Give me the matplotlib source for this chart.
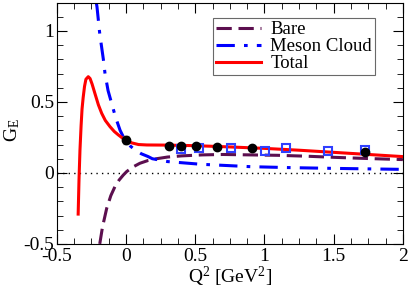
import matplotlib
matplotlib.use("Agg")
import matplotlib.pyplot as plt
from matplotlib.ticker import MultipleLocator, FormatStrFormatter

plt.rcParams['font.family'] = ['Liberation Serif', 'DejaVu Serif']
plt.rcParams['mathtext.fontset'] = 'custom'
plt.rcParams['mathtext.rm'] = 'Liberation Serif'
plt.rcParams['mathtext.it'] = 'Liberation Serif:italic'
plt.rcParams['axes.unicode_minus'] = False

# curves
total_q2 = [-0.346, -0.340, -0.333, -0.325, -0.318, -0.310, -0.300, -0.290, -0.273,
            -0.260, -0.245, -0.225, -0.200, -0.176, -0.150, -0.116, -0.085, -0.056,
            -0.025, 0.0, 0.04, 0.09, 0.15, 0.3, 0.5, 0.7, 1.0, 1.25, 1.5, 1.75, 2.0]
total_ge = [-0.29, -0.05, 0.16, 0.33, 0.45, 0.53, 0.61, 0.66, 0.678,
            0.665, 0.625, 0.56, 0.48, 0.42, 0.37, 0.326, 0.292, 0.268,
            0.245, 0.232, 0.212, 0.200, 0.197, 0.196, 0.192, 0.185, 0.173, 0.16, 0.145, 0.13, 0.115]

bare_q2 = [-0.19, -0.17, -0.14, -0.11, -0.08, -0.05, -0.02, 0.005, 0.05, 0.10, 0.16,
           0.22, 0.3, 0.4, 0.55, 0.7, 0.9, 1.1, 1.3, 1.5, 1.7, 1.93, 2.0]
bare_ge = [-0.50, -0.38, -0.25, -0.16, -0.096, -0.05, -0.015, 0.01, 0.042, 0.068, 0.088,
           0.10, 0.112, 0.12, 0.127, 0.13, 0.127, 0.124, 0.118, 0.11, 0.103, 0.096, 0.094]

cloud_q2 = [-0.215, -0.21, -0.19, -0.164, -0.152, -0.13, -0.104, -0.075, -0.043, -0.01,
            0.03, 0.065, 0.11, 0.16, 0.19, 0.3, 0.54, 0.9, 1.2, 1.5, 1.93, 2.0]
cloud_ge = [1.20, 1.17, 0.98, 0.80, 0.70, 0.58, 0.49, 0.39, 0.30, 0.235,
            0.19, 0.162, 0.135, 0.115, 0.10, 0.08, 0.061, 0.044, 0.037, 0.032, 0.026, 0.025]

# experimental points
black_q2 = [0.0, 0.307, 0.40, 0.505, 0.657, 0.908, 1.727]
black_ge = [0.232, 0.192, 0.192, 0.192, 0.185, 0.174, 0.146]
black_err = [0.025, 0.006, 0.006, 0.006, 0.006, 0.008, 0.01]

blue_q2 = [0.40, 0.53, 0.759, 1.007, 1.159, 1.459, 1.727]
blue_ge = [0.169, 0.178, 0.178, 0.155, 0.174, 0.155, 0.16]

fig = plt.figure(figsize=(4.09, 2.90), dpi=100)
ax = fig.add_axes([0.139, 0.159, 0.846, 0.832])

ax.axhline(0, color='black', lw=1.0, ls=(0, (1, 3)))
ax.plot(bare_q2, bare_ge, color='#5c0f4f', lw=2.2, ls=(0, (5, 2.2)), label='Bare')
ax.plot(cloud_q2, cloud_ge, color='#0000ff', lw=2.2, ls=(0, (6, 3, 1.2, 3)), label='Meson Cloud')
ax.plot(total_q2, total_ge, color='#ff0000', lw=2.2, label='Total')

ax.plot(blue_q2, blue_ge, ls='none', marker='s', ms=5.5, mfc='none', mec='#2f3fff', mew=1.5)
ax.errorbar(black_q2, black_ge, yerr=black_err, fmt='o', color='black', ms=6,
            ecolor='#888888', elinewidth=1, capsize=2.5)

ax.set_xlim(-0.5, 2.0)
ax.set_ylim(-0.5, 1.2)
ax.xaxis.set_major_locator(MultipleLocator(0.5))
ax.xaxis.set_minor_locator(MultipleLocator(0.125))
ax.yaxis.set_major_locator(MultipleLocator(0.5))
ax.yaxis.set_minor_locator(MultipleLocator(0.1))
ax.xaxis.set_major_formatter(FormatStrFormatter('%g'))
ax.yaxis.set_major_formatter(FormatStrFormatter('%g'))
ax.tick_params(which='both', direction='in', top=True, right=True, labelsize=14)
ax.tick_params(which='major', length=7)
ax.tick_params(which='minor', length=4)
ax.tick_params(axis='x', pad=3)
ax.tick_params(axis='y', pad=2)

ax.set_xlabel('Q$^2$ [GeV$^2$]', fontsize=14, labelpad=0)
ax.set_ylabel('G$_\\mathrm{E}$', fontsize=14)
ax.yaxis.set_label_coords(-0.1, 0.47)

leg = ax.legend(loc='upper left', bbox_to_anchor=(0.452, 0.935), fontsize=13.5,
                frameon=True, fancybox=False, edgecolor='#444444', handlelength=2.4,
                borderpad=0.15, labelspacing=0.0, handletextpad=0.5, borderaxespad=0)
leg.get_frame().set_linewidth(0.8)

fig.savefig('out.png', dpi=100)
